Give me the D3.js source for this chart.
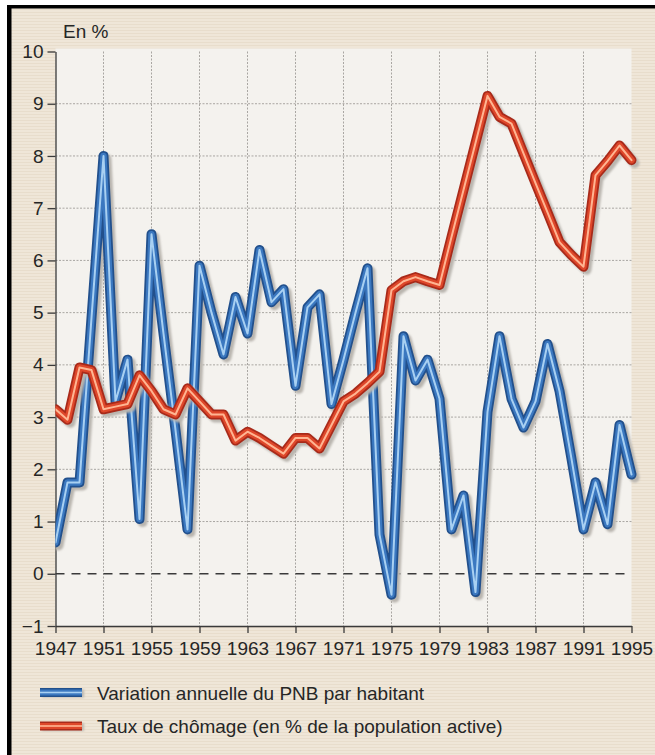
<!DOCTYPE html>
<html>
<head>
<meta charset="utf-8">
<script src="https://cdn.jsdelivr.net/npm/d3@7"></script>
<style>
body { margin: 0; background: #fff; }
svg { display: block; font-family: "Liberation Sans", Arial, sans-serif; }
</style>
</head>
<body>
<svg id="chart" width="655" height="755"></svg>
<script>
// annual data
var years = [1947, 1948, 1949, 1950, 1951, 1952, 1953, 1954, 1955, 1956,
    1957, 1958, 1959, 1960, 1961, 1962, 1963, 1964, 1965, 1966,
    1967, 1968, 1969, 1970, 1971, 1972, 1973, 1974, 1975, 1976,
    1977, 1978, 1979, 1980, 1981, 1982, 1983, 1984, 1985, 1986,
    1987, 1988, 1989, 1990, 1991, 1992, 1993, 1994, 1995];

// Variation annuelle du PNB par habitant (%)
var pnb = [0.6, 1.75, 1.75, 4.9, 8.0, 3.3, 4.1, 1.05, 6.5, 4.6,
    2.75, 0.85, 5.9, 5.0, 4.2, 5.3, 4.6, 6.2, 5.2, 5.45,
    3.6, 5.1, 5.35, 3.25, 4.1, 5.0, 5.85, 0.75, -0.4, 4.55,
    3.7, 4.1, 3.35, 0.85, 1.5, -0.35, 3.1, 4.55, 3.35, 2.8,
    3.3, 4.4, 3.5, 2.2, 0.85, 1.75, 0.95, 2.85, 1.9];

// Taux de chomage (% de la population active)
var chomage = [3.15, 2.95, 3.95, 3.9, 3.15, 3.2, 3.25, 3.8, 3.5, 3.15,
    3.05, 3.55, 3.3, 3.05, 3.05, 2.55, 2.72, 2.6, 2.45, 2.3,
    2.6, 2.6, 2.4, 2.85, 3.3, 3.45, 3.65, 3.87, 5.43, 5.6,
    5.68, 5.6, 5.53, 6.45, 7.35, 8.25, 9.15, 8.75, 8.62, 8.05,
    7.48, 6.92, 6.35, 6.1, 5.88, 7.63, 7.9, 8.2, 7.92];

var yTicks = [-1, 0, 1, 2, 3, 4, 5, 6, 7, 8, 9, 10];
var xTicks = [1947, 1951, 1955, 1959, 1963, 1967, 1971, 1975, 1979, 1983, 1987, 1991, 1995];
var gridYears = [1951, 1955, 1959, 1963, 1967, 1971, 1975, 1979, 1983, 1987, 1991];
var gridValues = [1, 2, 3, 4, 5, 6, 7, 8, 9];
var legendLabels = ["Variation annuelle du PNB par habitant",
    "Taux de chômage (en % de la population active)"];

var blueStyle = {dark: "#22508c", body: "#3b78c0", light: "#a8d0f2"};
var redStyle = {dark: "#a82a1a", body: "#de472a", light: "#ffb592"};

var plotLeft = 55.5, plotRight = 631.5, plotTop = 51.5, plotBottom = 626;

var svg = d3.select("#chart");
var defs = svg.append("defs");

var paper = defs.append("pattern")
    .attr("id", "paper")
    .attr("patternUnits", "userSpaceOnUse")
    .attr("width", 6)
    .attr("height", 3);
paper.append("rect").attr("width", 6).attr("height", 3).attr("fill", "#efe6d8");
paper.append("rect").attr("width", 6).attr("height", 1).attr("fill", "#e8ddcc");

defs.append("filter").attr("id", "soft")
    .append("feGaussianBlur").attr("stdDeviation", 1);

defs.append("clipPath").attr("id", "clipLeft")
    .append("rect")
    .attr("x", plotLeft)
    .attr("y", 0)
    .attr("width", 655 - plotLeft)
    .attr("height", 755);

// page background and frame
svg.append("rect")
    .attr("x", 7).attr("y", 5)
    .attr("width", 648).attr("height", 750)
    .attr("fill", "url(#paper)");
svg.append("rect")
    .attr("x", plotLeft).attr("y", 48.5)
    .attr("width", plotRight - plotLeft).attr("height", plotBottom - 48.5)
    .attr("fill", "#f4f2ee");
svg.append("rect").attr("x", 7).attr("y", 5).attr("width", 648).attr("height", 3.5).attr("fill", "#000");
svg.append("rect").attr("x", 7).attr("y", 5).attr("width", 4.5).attr("height", 750).attr("fill", "#000");

var x = d3.scaleLinear().domain([1947, 1995]).range([plotLeft, plotRight]);
var y = d3.scaleLinear().domain([-1, 10]).range([plotBottom, plotTop]);

// grid
svg.append("g").selectAll("line")
    .data(gridValues)
    .enter().append("line")
        .attr("x1", plotLeft)
        .attr("x2", plotRight)
        .attr("y1", function(d) { return y(d); })
        .attr("y2", function(d) { return y(d); })
        .attr("stroke", "#a9a6a2")
        .attr("stroke-width", 1)
        .attr("stroke-dasharray", "2,1.5");

svg.append("g").selectAll("line")
    .data(gridYears)
    .enter().append("line")
        .attr("x1", function(d) { return x(d); })
        .attr("x2", function(d) { return x(d); })
        .attr("y1", y(10))
        .attr("y2", y(-1))
        .attr("stroke", "#a9a6a2")
        .attr("stroke-width", 1)
        .attr("stroke-dasharray", "2,1.5");

svg.append("line")
    .attr("x1", plotLeft)
    .attr("x2", plotRight)
    .attr("y1", y(0))
    .attr("y2", y(0))
    .attr("stroke", "#3a3a3a")
    .attr("stroke-width", 1.3)
    .attr("stroke-dasharray", "9,7");

// axes
var yAxis = svg.append("g")
    .attr("transform", "translate(" + plotLeft + ",0)")
    .call(d3.axisLeft(y)
        .tickValues(yTicks)
        .tickSize(8)
        .tickSizeOuter(0)
        .tickPadding(4)
        .tickFormat(d3.format("d")));

var xAxis = svg.append("g")
    .attr("transform", "translate(0," + plotBottom + ")")
    .call(d3.axisBottom(x)
        .tickValues(xTicks)
        .tickSize(7)
        .tickSizeOuter(0)
        .tickPadding(9)
        .tickFormat(d3.format("d")));

[yAxis, xAxis].forEach(function(a) {
    a.selectAll("path, line").attr("stroke", "#3a3a3a").attr("stroke-width", 1.3);
    a.selectAll("text").attr("fill", "#262626").style("font-size", "19px");
});

svg.append("text")
    .attr("x", 63)
    .attr("y", 38)
    .attr("fill", "#262626")
    .style("font-size", "19px")
    .text("En %");

// series lines: shadow, dark edge, body, light centre
var line = d3.line()
    .x(function(d) { return x(d[0]); })
    .y(function(d) { return y(d[1]); });

function drawSeries(values, style) {
    var pts = years.map(function(yr, i) { return [yr, values[i]]; });
    var g = svg.append("g").attr("clip-path", "url(#clipLeft)");
    g.append("path")
        .attr("d", line(pts))
        .attr("transform", "translate(3,3)")
        .attr("fill", "none")
        .attr("stroke", "#b9b5af")
        .attr("stroke-width", 10)
        .attr("stroke-linejoin", "round")
        .attr("stroke-linecap", "round")
        .attr("filter", "url(#soft)");
    [[style.dark, 10], [style.body, 6.5], [style.light, 2]].forEach(function(s) {
        g.append("path")
            .attr("d", line(pts))
            .attr("fill", "none")
            .attr("stroke", s[0])
            .attr("stroke-width", s[1])
            .attr("stroke-linejoin", "round")
            .attr("stroke-linecap", "round");
    });
}

drawSeries(pnb, blueStyle);
drawSeries(chomage, redStyle);

// legend
var legend = svg.append("g");
[blueStyle, redStyle].forEach(function(style, i) {
    var cy = 692.5 + i * 33.5;
    legend.append("rect")
        .attr("x", 42).attr("y", cy - 3)
        .attr("width", 42).attr("height", 8)
        .attr("fill", "#bdb8b0")
        .attr("filter", "url(#soft)");
    legend.append("rect").attr("x", 40).attr("y", cy - 4.5).attr("width", 42).attr("height", 9).attr("fill", style.dark);
    legend.append("rect").attr("x", 40).attr("y", cy - 3).attr("width", 42).attr("height", 6).attr("fill", style.body);
    legend.append("rect").attr("x", 40).attr("y", cy - 0.8).attr("width", 42).attr("height", 1.6).attr("fill", style.light);
    legend.append("text")
        .attr("x", 97)
        .attr("y", cy + 7)
        .attr("fill", "#262626")
        .style("font-size", "19px")
        .text(legendLabels[i]);
});
</script>
</body>
</html>
